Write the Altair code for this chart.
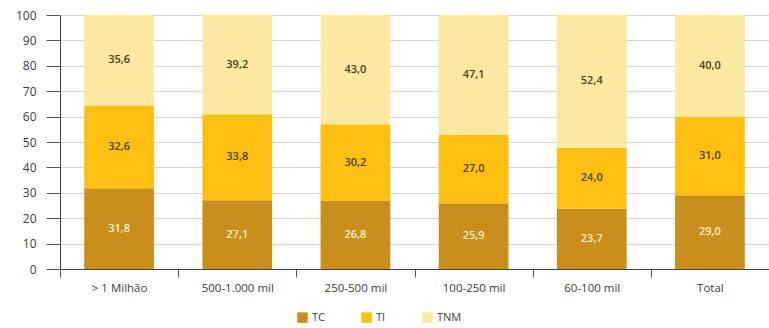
import altair as alt
import pandas as pd

# Population size classes and the share (%) of each component per class
categories = ["> 1 Milhão", "500-1.000 mil", "250-500 mil", "100-250 mil", "60-100 mil", "Total"]
tc = [31.8, 27.1, 26.8, 25.9, 23.7, 29.0]
ti = [32.6, 33.8, 30.2, 27.0, 24.0, 31.0]
tnm = [35.6, 39.2, 43.0, 47.1, 52.4, 40.0]

series = ["TC", "TI", "TNM"]
colors = ["#C98E1B", "#FDC012", "#FDE8A2"]
text_colors = ["#FBF0CC", "#4A3E14", "#4A3E14"]

rows = []
for i, cat in enumerate(categories):
    for k, (name, vals) in enumerate(zip(series, [tc, ti, tnm])):
        rows.append({
            "classe": cat,
            "serie": name,
            "valor": vals[i],
            "ordem": k,
            "rotulo": f"{vals[i]:.1f}".replace(".", ","),
            "cor_texto": text_colors[k],
        })
df = pd.DataFrame(rows)

FONT = "Open Sans"

x_axis = alt.Axis(
    tickBand="extent",
    labelAngle=0,
    labelFontSize=11.5,
    labelColor="#3C3C3C",
    labelFont=FONT,
    labelPadding=5,
    tickSize=8,
    tickColor="#555555",
    domainColor="#444444",
    grid=False,
)
x_scale = alt.Scale(paddingInner=0, paddingOuter=0)

y_axis = alt.Axis(
    values=list(range(0, 101, 10)),
    labelOverlap=False,
    tickSize=14,
    tickColor="#555555",
    labelPadding=10,
    labelFontSize=12,
    labelColor="#3C3C3C",
    labelFont=FONT,
    domainColor="#444444",
    gridColor="#D4D4D4",
)
y_scale = alt.Scale(domain=[0, 100], nice=False)

bars = alt.Chart(df).mark_bar(width={"band": 0.59}).encode(
    x=alt.X("classe:N", sort=categories, title=None, scale=x_scale, axis=x_axis),
    y=alt.Y("valor:Q", stack="zero", title=None, scale=y_scale, axis=y_axis),
    color=alt.Color(
        "serie:N",
        sort=series,
        scale=alt.Scale(domain=series, range=colors),
        legend=alt.Legend(
            title=None,
            orient="none",
            direction="horizontal",
            legendX=237,
            legendY=297,
            symbolType="square",
            symbolSize=110,
            symbolStrokeWidth=0,
            labelFontSize=11,
            labelColor="#3C3C3C",
            labelFont=FONT,
            columnPadding=36,
        ),
    ),
    order=alt.Order("ordem:Q"),
)

labels = alt.Chart(df).mark_text(fontSize=11, font=FONT, fontWeight=600).encode(
    x=alt.X("classe:N", sort=categories, title=None, scale=x_scale, axis=x_axis),
    y=alt.Y("valor:Q", stack="zero", bandPosition=0.5, title=None, scale=y_scale, axis=y_axis),
    text="rotulo:N",
    color=alt.Color("cor_texto:N", scale=None),
    order=alt.Order("ordem:Q"),
)

chart = (
    alt.layer(bars, labels)
    .properties(
        width=709,
        height=254,
        autosize=alt.AutoSizeParams(type="none"),
        padding={"left": 60, "top": 15, "right": 0, "bottom": 59},
        background="white",
    )
    .configure_view(stroke=None)
)

chart.save("out.html", embed_options={"renderer": "svg", "actions": False})
